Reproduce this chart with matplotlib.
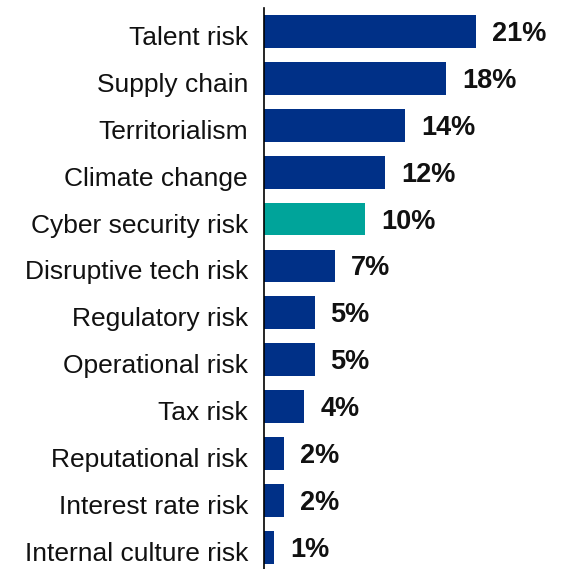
import matplotlib
matplotlib.use("Agg")
import matplotlib.pyplot as plt
from matplotlib.transforms import offset_copy

categories = ["Talent risk", "Supply chain", "Territorialism", "Climate change",
              "Cyber security risk", "Disruptive tech risk", "Regulatory risk",
              "Operational risk", "Tax risk", "Reputational risk",
              "Interest rate risk", "Internal culture risk"]
values = [21, 18, 14, 12, 10, 7, 5, 5, 4, 2, 2, 1]
labels = ["21%", "18%", "14%", "12%", "10%", "7%", "5%", "5%", "4%", "2%", "2%", "1%"]
highlight = "Cyber security risk"

plt.rcParams['font.family'] = ['Liberation Sans', 'DejaVu Sans']

W, H = 564, 569
fig = plt.figure(figsize=(W / 100, H / 100), dpi=100)
ax = fig.add_axes([264 / W, 0, 1 - 264 / W, (569 - 8) / H])

colors = ["#00A49A" if c == highlight else "#003087" for c in categories]
pos = list(range(len(categories)))
ax.barh(pos, values, height=0.70, color=colors)

ax.set_xlim(0, 29.7)
ax.set_ylim(11.46, -0.5)
ax.set_yticks([])
ax.set_xticks([])
for s in ["top", "right", "bottom"]:
    ax.spines[s].set_visible(False)
ax.spines["left"].set_linewidth(1.2)
ax.spines["left"].set_color("black")

cat_trans = offset_copy(ax.transData, fig=fig, x=-16, y=-6.5, units='dots')
for p, c in zip(pos, categories):
    ax.text(0, p, c, transform=cat_trans, ha='right', va='center',
            fontsize=19, color="#111111", clip_on=False)

trans = offset_copy(ax.transData, fig=fig, x=16, y=-2.5, units='dots')
for p, v, l in zip(pos, values, labels):
    ax.text(v, p, l, transform=trans, ha='left', va='center',
            fontsize=19.5, fontweight='bold', color="#111111")

fig.savefig("out.png", dpi=100)
